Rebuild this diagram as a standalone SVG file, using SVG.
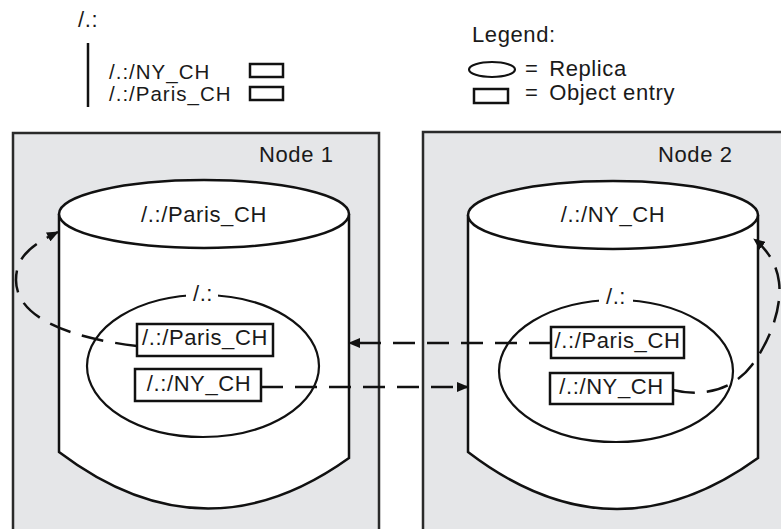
<svg xmlns="http://www.w3.org/2000/svg" width="781" height="529" viewBox="0 0 781 529">
  <style>
    text { font-family: "Liberation Sans", Arial, Helvetica, sans-serif; font-size: 22px; letter-spacing: 0.6px; fill: #1a1a1a; }
    .mid { text-anchor: middle; }
    .small { font-size: 20.5px; letter-spacing: 1px; }
    .node-box { fill: #e5e6e8; stroke: #2a2a2a; stroke-width: 2.5; }
    .cyl-body { fill: #ffffff; stroke: none; }
    .cyl-line { fill: none; stroke: #111; stroke-width: 2.5; }
    .cyl-top { fill: #ffffff; stroke: #111; stroke-width: 2.5; }
    .replica { fill: #ffffff; stroke: #111; stroke-width: 2.2; }
    .entry { fill: #ffffff; stroke: #111; stroke-width: 2.5; }
    .gap { fill: #ffffff; stroke: none; }
    .link { fill: none; stroke: #111; stroke-width: 2.5; stroke-dasharray: 22 12; }
  </style>
  <defs>
    <marker id="head" viewBox="0 0 12 10" refX="11" refY="5" markerWidth="12" markerHeight="10" markerUnits="userSpaceOnUse" orient="auto">
      <path d="M0,0 L12,5 L0,10 Z" fill="#111"/>
    </marker>
  </defs>

  <!-- directory tree -->
  <g id="tree">
    <text x="78" y="27">/.:</text>
    <line x1="88" y1="43" x2="88" y2="107" stroke="#111" stroke-width="2.5"/>
    <text class="small" x="109" y="79">/.:/NY_CH</text>
    <text class="small" x="109" y="101">/.:/Paris_CH</text>
    <rect class="entry" x="250" y="64" width="33" height="13"/>
    <rect class="entry" x="250" y="87" width="33" height="13"/>
  </g>

  <!-- legend -->
  <g id="legend">
    <text x="472" y="42">Legend:</text>
    <ellipse class="replica" cx="492" cy="69.5" rx="23" ry="7.5" stroke-width="2.8"/>
    <text x="525" y="76">= <tspan dx="4">Replica</tspan></text>
    <rect class="entry" x="474" y="89" width="34" height="14"/>
    <text x="525" y="100">= <tspan dx="4">Object entry</tspan></text>
  </g>

  <!-- node 1 -->
  <g id="node1">
    <rect class="node-box" x="13" y="133" width="366" height="410"/>
    <text x="259" y="162">Node 1</text>
    <path class="cyl-body" d="M59,214 L59,452 Q204,562 349,458 L349,214 Z"/>
    <path class="cyl-line" d="M59,214 L59,452 Q204,562 349,458 L349,214"/>
    <ellipse class="cyl-top" cx="204" cy="214" rx="145" ry="34"/>
    <text class="mid" x="204" y="222">/.:/Paris_CH</text>
    <ellipse class="replica" cx="203" cy="366" rx="116" ry="71"/>
    <rect class="gap" x="186" y="284" width="32" height="20"/>
    <text class="mid" x="203" y="301">/.:</text>
    <rect class="entry" x="137" y="324" width="136" height="32"/>
    <text class="mid" x="205" y="345">/.:/Paris_CH</text>
    <rect class="entry" x="135" y="369" width="126" height="32"/>
    <text class="mid" x="199" y="391">/.:/NY_CH</text>
  </g>

  <!-- node 2 -->
  <g id="node2">
    <rect class="node-box" x="423" y="132" width="380" height="410"/>
    <text x="658" y="162">Node 2</text>
    <path class="cyl-body" d="M468,215 L468,452 Q613,563 758,458 L758,215 Z"/>
    <path class="cyl-line" d="M468,215 L468,452 Q613,563 758,458 L758,215"/>
    <ellipse class="cyl-top" cx="613" cy="215" rx="145" ry="34"/>
    <text class="mid" x="613" y="222">/.:/NY_CH</text>
    <ellipse class="replica" cx="616" cy="371" rx="117" ry="71"/>
    <rect class="gap" x="599" y="287" width="34" height="20"/>
    <text class="mid" x="616" y="304">/.:</text>
    <rect class="entry" x="551" y="327" width="133" height="31"/>
    <text class="mid" x="617.5" y="348">/.:/Paris_CH</text>
    <rect class="entry" x="550" y="373" width="123" height="31"/>
    <text class="mid" x="611.5" y="394">/.:/NY_CH</text>
  </g>

  <!-- replication links -->
  <g id="connectors">
    <path class="link" d="M551,343 L349,343" marker-end="url(#head)"/>
    <path class="link" d="M261,387 L468,387" marker-end="url(#head)"/>
    <path class="link" d="M137,346 C 70,338 16,318 16,280 C 16,255 34,244 58,232" marker-end="url(#head)"/>
    <path class="link" d="M673,390 C 705,398 735,388 752,365 C 772,338 782,305 779,282 C 777,265 768,250 754,239" marker-end="url(#head)"/>
  </g>
</svg>
